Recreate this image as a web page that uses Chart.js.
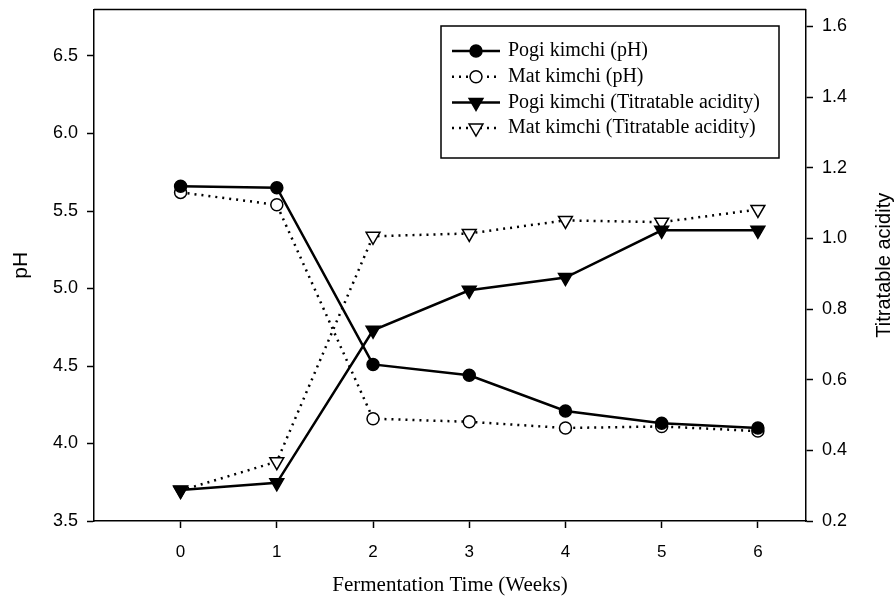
<!DOCTYPE html>
<html>
<head>
<meta charset="utf-8">
<script src="https://cdn.jsdelivr.net/npm/chart.js@4"></script>
<style>
  html, body { margin: 0; padding: 0; background: #fff; }
  #wrap { width: 895px; height: 605px; }
</style>
</head>
<body>
<div id="wrap"><canvas id="lineChart" width="895" height="605"></canvas></div>
<script>
// data
var weeks = [0, 1, 2, 3, 4, 5, 6];
var pogiPH = [5.66, 5.65, 4.51, 4.44, 4.21, 4.13, 4.10];
var matPH = [5.62, 5.54, 4.16, 4.14, 4.10, 4.11, 4.08];
var pogiTA = [0.288, 0.308, 0.740, 0.853, 0.889, 1.023, 1.023];
var matTA = [0.286, 0.368, 1.006, 1.014, 1.051, 1.046, 1.082];

var phTicks = [3.5, 4.0, 4.5, 5.0, 5.5, 6.0, 6.5];
var taTicks = [0.2, 0.4, 0.6, 0.8, 1.0, 1.2, 1.4, 1.6];

var sans = '"Liberation Sans", Arial, sans-serif';
var serif = '"Liberation Serif", "Times New Roman", serif';

function pts(ys) {
  return weeks.map(function (w, i) { return { x: w, y: ys[i] }; });
}

var dotted = [2, 5];

var datasets = [
  {
    label: 'Pogi kimchi (pH)', data: pts(pogiPH), yAxisID: 'y',
    borderColor: '#000', borderWidth: 2.5, pointStyle: 'circle', pointRadius: 6,
    pointBackgroundColor: '#000', pointBorderColor: '#000', pointBorderWidth: 1.5
  },
  {
    label: 'Mat kimchi (pH)', data: pts(matPH), yAxisID: 'y',
    borderColor: '#000', borderWidth: 2.5, borderDash: dotted, pointStyle: 'circle', pointRadius: 6,
    pointBackgroundColor: '#fff', pointBorderColor: '#000', pointBorderWidth: 1.5
  },
  {
    label: 'Pogi kimchi (Titratable acidity)', data: pts(pogiTA), yAxisID: 'y2',
    borderColor: '#000', borderWidth: 2.5, pointStyle: 'triangle', pointRotation: 180, pointRadius: 8,
    pointBackgroundColor: '#000', pointBorderColor: '#000', pointBorderWidth: 1.5
  },
  {
    label: 'Mat kimchi (Titratable acidity)', data: pts(matTA), yAxisID: 'y2',
    borderColor: '#000', borderWidth: 2.5, borderDash: dotted, pointStyle: 'triangle', pointRotation: 180, pointRadius: 8,
    pointBackgroundColor: '#fff', pointBorderColor: '#000', pointBorderWidth: 1.5
  }
];

// top frame line, right title and the boxed legend
var extras = {
  id: 'extras',
  afterDraw: function (chart) {
    var ctx = chart.ctx;
    var a = chart.chartArea;
    ctx.save();
    ctx.strokeStyle = '#000';
    ctx.lineWidth = 1.5;
    ctx.beginPath();
    ctx.moveTo(a.left, a.top);
    ctx.lineTo(a.right, a.top);
    ctx.stroke();

    // right axis title, reading bottom to top
    ctx.save();
    ctx.translate(884, (a.top + a.bottom) / 2);
    ctx.rotate(-Math.PI / 2);
    ctx.fillStyle = '#000';
    ctx.font = '20px ' + sans;
    ctx.textAlign = 'center';
    ctx.textBaseline = 'middle';
    ctx.fillText('Titratable acidity', 0, 0);
    ctx.restore();

    // legend
    var bx = 441, by = 26, bw = 338, bh = 132;
    ctx.lineWidth = 1.5;
    ctx.strokeRect(bx, by, bw, bh);
    ctx.font = '20px ' + serif;
    ctx.textBaseline = 'middle';
    ctx.textAlign = 'left';
    chart.data.datasets.forEach(function (ds, i) {
      var y = 51 + i * 25.7;
      ctx.save();
      ctx.strokeStyle = '#000';
      ctx.lineWidth = ds.borderWidth;
      ctx.setLineDash(ds.borderDash || []);
      ctx.beginPath();
      ctx.moveTo(452, y);
      ctx.lineTo(500, y);
      ctx.stroke();
      ctx.setLineDash([]);
      ctx.fillStyle = ds.pointBackgroundColor;
      ctx.strokeStyle = ds.pointBorderColor;
      ctx.lineWidth = ds.pointBorderWidth;
      Chart.helpers.drawPoint(ctx, {
        pointStyle: ds.pointStyle, rotation: ds.pointRotation || 0,
        radius: ds.pointRadius, borderWidth: ds.pointBorderWidth
      }, 476, y);
      ctx.restore();
      ctx.fillStyle = '#000';
      ctx.fillText(ds.label, 508, y);
    });
    ctx.restore();
  }
};

function axisGrid() {
  return { drawOnChartArea: false, drawTicks: true, tickLength: 7, tickColor: '#000', tickWidth: 1.5 };
}

function fixWidth(w) {
  return function (s) {
    s.width = w;
    s.paddingTop = 0;
    s.paddingBottom = 0;
  };
}

var config = {
  type: 'line',
  data: { datasets: datasets },
  options: {
    responsive: false,
    animation: false,
    layout: { padding: { top: 9, left: 0, right: 0, bottom: 0 } },
    plugins: { legend: { display: false }, tooltip: { enabled: false } },
    scales: {
      x: {
        type: 'linear', min: -0.9, max: 6.5,
        afterBuildTicks: function (s) { s.ticks = weeks.map(function (v) { return { value: v }; }); },
        afterFit: function (s) { s.height = 84; },
        grid: axisGrid(),
        border: { display: true, color: '#000', width: 1.5 },
        ticks: { color: '#000', font: { family: sans, size: 17 }, padding: 14, maxRotation: 0 },
        title: { display: true, text: 'Fermentation Time (Weeks)', color: '#000',
                 font: { family: serif, size: 21 }, padding: { top: 0, bottom: 7 } }
      },
      y: {
        type: 'linear', position: 'left', min: 3.5, max: 6.8,
        afterBuildTicks: function (s) { s.ticks = phTicks.map(function (v) { return { value: v }; }); },
        afterFit: fixWidth(94),
        grid: axisGrid(),
        border: { display: true, color: '#000', width: 1.5 },
        ticks: { color: '#000', font: { family: sans, size: 18 }, padding: 9,
                 callback: function (v) { return v.toFixed(1); } },
        title: { display: true, text: 'pH', color: '#000',
                 font: { family: sans, size: 21 }, padding: { top: 9, bottom: 0 } }
      },
      y2: {
        type: 'linear', position: 'right', min: 0.2, max: 1.648,
        afterBuildTicks: function (s) { s.ticks = taTicks.map(function (v) { return { value: v }; }); },
        afterFit: fixWidth(89),
        grid: axisGrid(),
        border: { display: true, color: '#000', width: 1.5 },
        ticks: { color: '#000', font: { family: sans, size: 18 }, padding: 9,
                 callback: function (v) { return v.toFixed(1); } }
      }
    }
  },
  plugins: [extras]
};

var ctx = document.getElementById('lineChart').getContext('2d');
new Chart(ctx, config);
</script>
</body>
</html>
